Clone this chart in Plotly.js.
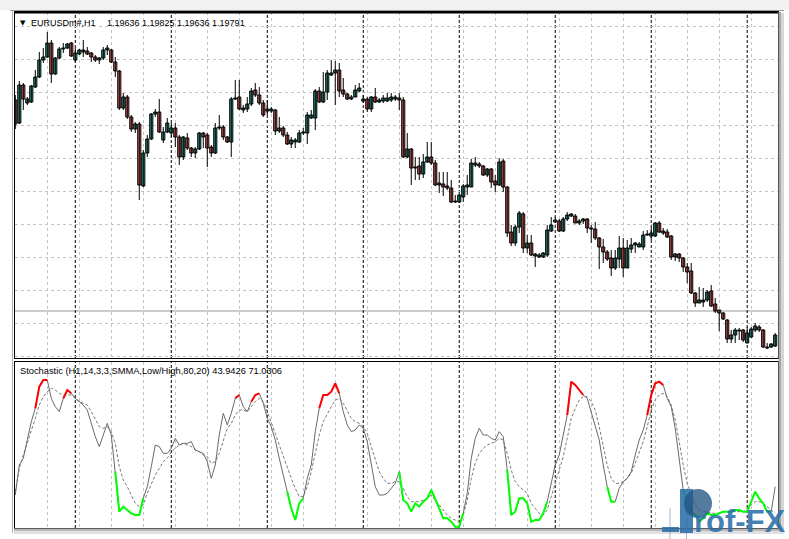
<!DOCTYPE html>
<html>
<head>
<meta charset="utf-8">
<script src="https://cdn.plot.ly/plotly-3.0.1.min.js"></script>
<style>
html,body{margin:0;padding:0;background:#ffffff;}
#chart{width:789px;height:539px;}
</style>
</head>
<body>
<div id="chart"></div>
<script>
// ---------------- DATA (EURUSDm#, H1) ----------------
const open = [1.2214,1.2191,1.2229,1.2211,1.2212,1.2227,1.2237,1.2254,1.2257,1.2271,
1.2240,1.2256,1.2265,1.2266,1.2271,1.2254,1.2260,1.2262,1.2263,1.2261,
1.2257,1.2254,1.2256,1.2264,1.2264,1.2252,1.2243,1.2206,1.2217,1.2197,
1.2185,1.2190,1.2128,1.2161,1.2175,1.2200,1.2202,1.2174,1.2182,1.2181,
1.2186,1.2177,1.2157,1.2176,1.2166,1.2161,1.2165,1.2181,1.2179,1.2167,
1.2161,1.2186,1.2187,1.2177,1.2172,1.2215,1.2217,1.2204,1.2205,1.2210,
1.2224,1.2219,1.2211,1.2203,1.2203,1.2204,1.2183,1.2186,1.2179,1.2170,
1.2172,1.2172,1.2181,1.2181,1.2196,1.2196,1.2223,1.2212,1.2222,1.2239,
1.2241,1.2244,1.2224,1.2220,1.2215,1.2217,1.2223,1.2213,1.2215,1.2205,
1.2217,1.2212,1.2213,1.2213,1.2214,1.2215,1.2216,1.2214,1.2157,1.2165,
1.2146,1.2148,1.2140,1.2152,1.2157,1.2151,1.2129,1.2130,1.2128,1.2126,
1.2112,1.2112,1.2117,1.2127,1.2127,1.2149,1.2150,1.2148,1.2139,1.2145,
1.2133,1.2129,1.2153,1.2127,1.2082,1.2071,1.2087,1.2100,1.2066,1.2071,
1.2058,1.2059,1.2057,1.2059,1.2083,1.2092,1.2093,1.2083,1.2095,1.2098,
1.2098,1.2091,1.2093,1.2095,1.2085,1.2085,1.2076,1.2067,1.2062,1.2056,
1.2046,1.2055,1.2066,1.2046,1.2065,1.2069,1.2067,1.2067,1.2079,1.2078,
1.2078,1.2091,1.2081,1.2082,1.2078,1.2057,1.2060,1.2056,1.2047,1.2043,
1.2021,1.2011,1.2012,1.2014,1.2023,1.2010,1.2004,1.2001,1.1994,1.1975,
1.1979,1.1983,1.1984,1.1971,1.1977,1.1984,1.1987,1.1984,1.1966,1.1967,
1.1968];

const high = [1.2219,1.2233,1.2231,1.2217,1.2229,1.2244,1.2262,1.2266,1.2282,1.2274,
1.2257,1.2267,1.2271,1.2271,1.2272,1.2266,1.2265,1.2274,1.2267,1.2262,
1.2259,1.2257,1.2267,1.2269,1.2265,1.2257,1.2244,1.2221,1.2219,1.2199,
1.2192,1.2192,1.2164,1.2179,1.2201,1.2205,1.2215,1.2187,1.2196,1.2191,
1.2191,1.2179,1.2178,1.2181,1.2167,1.2167,1.2182,1.2182,1.2181,1.2169,
1.2191,1.2199,1.2189,1.2178,1.2217,1.2234,1.2234,1.2209,1.2217,1.2226,
1.2231,1.2227,1.2214,1.2214,1.2207,1.2205,1.2197,1.2188,1.2182,1.2177,
1.2176,1.2184,1.2186,1.2202,1.2204,1.2225,1.2227,1.2242,1.2244,1.2254,
1.2253,1.2251,1.2236,1.2221,1.2219,1.2229,1.2231,1.2219,1.2217,1.2218,
1.2226,1.2216,1.2219,1.2221,1.2221,1.2219,1.2221,1.2217,1.2181,1.2166,
1.2157,1.2157,1.2160,1.2172,1.2172,1.2154,1.2142,1.2142,1.2142,1.2134,
1.2119,1.2121,1.2130,1.2139,1.2155,1.2157,1.2152,1.2149,1.2146,1.2146,
1.2139,1.2156,1.2155,1.2128,1.2089,1.2089,1.2103,1.2102,1.2079,1.2079,
1.2061,1.2061,1.2062,1.2089,1.2097,1.2097,1.2095,1.2097,1.2102,1.2101,
1.2100,1.2095,1.2096,1.2096,1.2089,1.2092,1.2077,1.2075,1.2064,1.2064,
1.2064,1.2078,1.2076,1.2074,1.2076,1.2072,1.2072,1.2083,1.2084,1.2086,
1.2092,1.2093,1.2086,1.2085,1.2079,1.2061,1.2061,1.2057,1.2051,1.2051,
1.2022,1.2027,1.2026,1.2024,1.2029,1.2016,1.2004,1.2002,1.1995,1.1984,
1.1986,1.1986,1.1985,1.1987,1.1987,1.1991,1.1989,1.1985,1.1971,1.1971,
1.1981];

const low = [1.2185,1.2190,1.2204,1.2209,1.2211,1.2226,1.2236,1.2251,1.2256,1.2231,
1.2239,1.2255,1.2261,1.2265,1.2257,1.2252,1.2259,1.2257,1.2259,1.2252,
1.2252,1.2250,1.2254,1.2259,1.2251,1.2237,1.2204,1.2204,1.2195,1.2182,
1.2181,1.2114,1.2127,1.2157,1.2174,1.2197,1.2181,1.2171,1.2181,1.2177,
1.2167,1.2149,1.2154,1.2164,1.2157,1.2156,1.2164,1.2166,1.2147,1.2157,
1.2160,1.2184,1.2174,1.2171,1.2157,1.2214,1.2204,1.2201,1.2202,1.2208,
1.2217,1.2209,1.2197,1.2199,1.2201,1.2179,1.2181,1.2177,1.2169,1.2166,
1.2166,1.2171,1.2179,1.2170,1.2195,1.2184,1.2211,1.2211,1.2214,1.2238,
1.2209,1.2217,1.2217,1.2214,1.2214,1.2217,1.2222,1.2211,1.2202,1.2202,
1.2211,1.2211,1.2211,1.2212,1.2212,1.2213,1.2204,1.2156,1.2156,1.2129,
1.2134,1.2134,1.2136,1.2151,1.2149,1.2128,1.2121,1.2118,1.2124,1.2111,
1.2111,1.2111,1.2112,1.2119,1.2127,1.2147,1.2146,1.2138,1.2137,1.2126,
1.2122,1.2128,1.2122,1.2077,1.2068,1.2068,1.2081,1.2061,1.2061,1.2058,
1.2047,1.2056,1.2056,1.2057,1.2082,1.2091,1.2082,1.2082,1.2093,1.2097,
1.2091,1.2089,1.2090,1.2081,1.2071,1.2074,1.2045,1.2051,1.2053,1.2038,
1.2044,1.2046,1.2037,1.2046,1.2061,1.2061,1.2067,1.2064,1.2078,1.2074,
1.2077,1.2081,1.2079,1.2076,1.2054,1.2053,1.2052,1.2042,1.2031,1.2020,
1.2007,1.2011,1.2007,1.2012,1.2007,1.2001,1.1983,1.1994,1.1971,1.1971,
1.1971,1.1974,1.1972,1.1971,1.1976,1.1982,1.1982,1.1966,1.1965,1.1966,
1.1967];

const close = [1.2190,1.2229,1.2215,1.2215,1.2228,1.2237,1.2254,1.2257,1.2271,1.2240,
1.2256,1.2265,1.2266,1.2270,1.2258,1.2261,1.2264,1.2264,1.2260,1.2257,
1.2254,1.2256,1.2264,1.2266,1.2252,1.2243,1.2206,1.2217,1.2197,1.2185,
1.2190,1.2129,1.2161,1.2175,1.2200,1.2202,1.2182,1.2182,1.2191,1.2186,
1.2177,1.2157,1.2177,1.2166,1.2161,1.2165,1.2181,1.2177,1.2166,1.2161,
1.2186,1.2187,1.2177,1.2172,1.2215,1.2216,1.2205,1.2206,1.2210,1.2223,
1.2219,1.2211,1.2199,1.2205,1.2205,1.2183,1.2186,1.2179,1.2170,1.2174,
1.2174,1.2181,1.2182,1.2199,1.2199,1.2223,1.2212,1.2222,1.2241,1.2241,
1.2244,1.2223,1.2220,1.2215,1.2217,1.2224,1.2226,1.2215,1.2205,1.2217,
1.2212,1.2214,1.2216,1.2216,1.2217,1.2217,1.2214,1.2157,1.2165,1.2146,
1.2147,1.2140,1.2152,1.2157,1.2151,1.2129,1.2131,1.2127,1.2126,1.2112,
1.2113,1.2119,1.2128,1.2129,1.2151,1.2151,1.2148,1.2139,1.2145,1.2132,
1.2129,1.2152,1.2127,1.2081,1.2071,1.2087,1.2101,1.2066,1.2071,1.2059,
1.2060,1.2057,1.2061,1.2084,1.2089,1.2094,1.2083,1.2095,1.2099,1.2100,
1.2091,1.2093,1.2095,1.2086,1.2086,1.2076,1.2067,1.2062,1.2055,1.2046,
1.2056,1.2066,1.2046,1.2066,1.2069,1.2071,1.2070,1.2079,1.2080,1.2081,
1.2091,1.2082,1.2083,1.2077,1.2057,1.2060,1.2056,1.2047,1.2042,1.2021,
1.2011,1.2014,1.2014,1.2022,1.2008,1.2003,1.2001,1.1995,1.1975,1.1979,
1.1984,1.1984,1.1974,1.1981,1.1985,1.1988,1.1984,1.1967,1.1967,1.1970,
1.1979];

// Stochastic (14,3,3) main (%K) and signal (%D)
const stochMain = [21,39,43,55,65,73,86,90,90,79,
74,71,79,84,82,79,77,75,72,64,
56,50,57,64,57,35,11,14,12,10,
9,9,19,26,38,51,50,46,46,49,
55,51,52,52,53,48,47,46,41,31,
39,57,70,63,70,79,81,74,71,77,
81,82,76,67,62,54,43,33,23,13,
6,16,19,31,39,59,73,81,81,83,
88,82,71,63,59,60,63,61,53,39,
26,21,21,22,25,28,35,18,16,11,
16,14,17,19,24,19,13,7,7,5,
2,2,10,22,43,55,61,57,57,55,
54,59,56,36,9,11,19,19,16,5,
6,6,10,17,28,39,45,58,69,89,
87,84,81,79,71,63,54,39,26,17,
17,25,29,31,35,45,54,60,69,81,
88,89,87,79,74,61,41,24,15,11,
9,5,7,10,9,9,10,11,11,11,
12,12,11,11,17,23,19,16,11,11,
26];

const stochSignal = [23,37,45,52,59,67,75,80,83,85,
84,82,81,81,81,79,77,76,75,71,
66,62,61,62,59,52,38,30,26,21,
16,14,15,22,28,33,37,41,43,47,
49,51,52,51,50,48,47,45,44,40,
41,46,54,61,64,69,72,72,71,74,
77,79,77,71,65,58,51,44,37,31,
25,20,20,26,35,46,57,65,70,74,
78,79,76,71,67,65,64,62,58,50,
42,35,31,28,28,29,29,25,20,17,
17,17,18,19,21,18,15,12,9,7,
6,5,9,18,31,40,46,49,51,52,
53,55,54,46,36,29,26,24,22,16,
13,10,9,12,20,28,35,44,55,67,
73,78,80,80,77,72,62,50,39,31,
28,28,29,31,34,40,47,53,62,72,
78,81,82,80,75,66,53,39,28,21,
15,12,11,11,10,10,10,11,11,11,
11,11,11,13,15,17,17,16,14,12,
10];

const daySeparatorBars = [15, 39, 63, 87, 111, 135, 159, 183];
const bidPrice = 1.2003;
const overbought = 80, oversold = 20;
const headerSymbol = "EURUSDm#,H1";
const headerPrices = "1.19636 1.19825 1.19636 1.19791";
const stochLabel = "Stochastic (H1,14,3,3,SMMA,Low/High,80,20) 43.9426 71.0306";

// ---------------- BUILD ----------------
const bars = open.map((_, i) => i);
const obLine = stochMain.map((v, i) => (v > overbought || stochMain[i + 1] > overbought) ? v : null);
const osLine = stochMain.map((v, i) => (v < oversold || stochMain[i + 1] < oversold) ? v : null);

const W = 789, H = 539;
const px = v => v / W;
const py = v => 1 - v / H;

const BULL = '#2f9f8f', BEAR = '#e4655d';
const minBody = 0.00006;

const bullIdx = bars.filter(i => close[i] >= open[i]);
const bearIdx = bars.filter(i => close[i] < open[i]);

const wickX = [], wickY = [];
bars.forEach(i => { wickX.push(i, i, null); wickY.push(low[i], high[i], null); });

function bodyTrace(idx, color) {
  return {
    type: 'bar', x: idx,
    base: idx.map(i => Math.min(open[i], close[i])),
    y: idx.map(i => Math.max(Math.abs(close[i] - open[i]), minBody)),
    width: 0.78, xaxis: 'x', yaxis: 'y',
    marker: {color: color, line: {color: '#000000', width: 1}},
    hoverinfo: 'skip', showlegend: false
  };
}

const traces = [
  {
    type: 'scatter', mode: 'lines', x: wickX, y: wickY, xaxis: 'x', yaxis: 'y',
    line: {color: '#000000', width: 1}, connectgaps: false, hoverinfo: 'skip', showlegend: false
  },
  bodyTrace(bullIdx, BULL),
  bodyTrace(bearIdx, BEAR),
  {
    type: 'scatter', mode: 'lines', x: bars, y: stochSignal, xaxis: 'x2', yaxis: 'y2',
    line: {color: '#7a7a7a', width: 1, dash: '3px,2px'}, hoverinfo: 'skip', showlegend: false
  },
  {
    type: 'scatter', mode: 'lines', x: bars, y: stochMain, xaxis: 'x2', yaxis: 'y2',
    line: {color: '#6a6a6a', width: 1}, hoverinfo: 'skip', showlegend: false
  },
  {
    type: 'scatter', mode: 'lines', x: bars, y: obLine, xaxis: 'x2', yaxis: 'y2',
    line: {color: '#ff0000', width: 2}, connectgaps: false, hoverinfo: 'skip', showlegend: false
  },
  {
    type: 'scatter', mode: 'lines', x: bars, y: osLine, xaxis: 'x2', yaxis: 'y2',
    line: {color: '#00ff00', width: 2}, connectgaps: false, hoverinfo: 'skip', showlegend: false
  }
];

const xCommon = {
  domain: [px(15), px(778)], range: [-0.075, 190.7],
  showgrid: true, gridcolor: '#c4c4c4', griddash: '3px,3px', gridwidth: 1,
  tick0: 0, dtick: 8, showticklabels: false, ticks: '', zeroline: false,
  showline: true, linecolor: '#000000', linewidth: 1, mirror: true,
  fixedrange: true
};

const shapes = [];
// window chrome
shapes.push({type: 'rect', xref: 'paper', yref: 'paper', x0: 0, x1: 1, y0: py(10), y1: 1,
  fillcolor: '#f1f1f1', line: {width: 0}, layer: 'below'});
shapes.push({type: 'line', xref: 'paper', yref: 'paper', x0: px(10), x1: px(784), y0: py(10.5), y1: py(10.5),
  line: {color: '#9a9a9a', width: 1}});
shapes.push({type: 'line', xref: 'paper', yref: 'paper', x0: px(12.5), x1: px(12.5), y0: py(533), y1: py(11),
  line: {color: '#b0b0b0', width: 1}});
shapes.push({type: 'rect', xref: 'paper', yref: 'paper', x0: px(778.5), x1: px(781), y0: py(533), y1: py(12),
  fillcolor: '#a8a8a8', line: {width: 0}});
shapes.push({type: 'rect', xref: 'paper', yref: 'paper', x0: px(781), x1: px(784), y0: py(533), y1: py(13),
  fillcolor: '#d6d6d6', line: {width: 0}});
shapes.push({type: 'rect', xref: 'paper', yref: 'paper', x0: px(14), x1: px(781), y0: py(531), y1: py(528.5),
  fillcolor: '#b8b8b8', line: {width: 0}});
shapes.push({type: 'rect', xref: 'paper', yref: 'paper', x0: px(14), x1: px(784), y0: py(534), y1: py(531),
  fillcolor: '#e0e0e0', line: {width: 0}});
shapes.push({type: 'line', xref: 'paper', yref: 'paper', x0: px(15), x1: px(778), y0: py(12.5), y1: py(12.5),
  line: {color: '#000000', width: 2}});

// bid level line
shapes.push({type: 'line', xref: 'x domain', yref: 'y', x0: 0, x1: 1, y0: bidPrice, y1: bidPrice,
  line: {color: '#bdbdbd', width: 1.5}, layer: 'below'});

// period separators in both panes
daySeparatorBars.forEach(b => {
  ['y domain', 'y2 domain'].forEach(yr => {
    shapes.push({type: 'line', xref: 'x', yref: yr, x0: b, x1: b, y0: 0, y1: 1,
      line: {color: '#000000', width: 1, dash: '3px,2px'}, layer: 'below'});
  });
});

// watermark logo
const logoBlue = 'rgba(44,112,170,0.88)';
shapes.push({type: 'line', xref: 'paper', yref: 'paper', x0: px(670), x1: px(670), y0: py(539), y1: py(508),
  line: {color: 'rgba(140,165,190,0.8)', width: 1}, layer: 'above'});
shapes.push({type: 'line', xref: 'paper', yref: 'paper', x0: px(686.5), x1: px(686.5), y0: py(539), y1: py(505),
  line: {color: 'rgba(140,165,190,0.8)', width: 1}, layer: 'above'});
shapes.push({type: 'rect', xref: 'paper', yref: 'paper', x0: px(662), x1: px(679), y0: py(532), y1: py(527),
  fillcolor: logoBlue, line: {width: 0}, layer: 'above'});
shapes.push({type: 'rect', xref: 'paper', yref: 'paper', x0: px(680), x1: px(693), y0: py(533), y1: py(489),
  fillcolor: logoBlue, line: {width: 0}, layer: 'above'});
shapes.push({type: 'circle', xref: 'paper', yref: 'paper', x0: px(684), x1: px(712), y0: py(518), y1: py(489),
  fillcolor: 'rgba(36,84,130,0.78)', line: {width: 0}, layer: 'above'});

const font = {family: 'Liberation Sans, Arial, DejaVu Sans, sans-serif', size: 9, color: '#000000'};
const annotations = [
  {xref: 'paper', yref: 'paper', x: px(18), y: py(23), xanchor: 'left', yanchor: 'middle',
   text: '▼', showarrow: false, font: {family: 'DejaVu Sans, sans-serif', size: 7, color: '#000000'}},
  {xref: 'paper', yref: 'paper', x: px(29), y: py(23), xanchor: 'left', yanchor: 'middle',
   text: headerSymbol, showarrow: false, font: font},
  {xref: 'paper', yref: 'paper', x: px(104.5), y: py(23), xanchor: 'left', yanchor: 'middle',
   text: headerPrices, showarrow: false, font: font},
  {xref: 'paper', yref: 'paper', x: px(18), y: py(371), xanchor: 'left', yanchor: 'middle',
   text: stochLabel, showarrow: false, font: Object.assign({}, font, {size: 9.3})},
  {xref: 'paper', yref: 'paper', x: px(692), y: py(521), xanchor: 'left', yanchor: 'middle',
   text: '<b>rof-FX</b>', showarrow: false,
   font: {family: 'Liberation Sans, Arial, sans-serif', size: 31, color: logoBlue}}
];

const layout = {
  width: W, height: H,
  margin: {l: 0, r: 0, t: 0, b: 0, pad: 0},
  paper_bgcolor: '#ffffff', plot_bgcolor: '#ffffff',
  showlegend: false, hovermode: false, dragmode: false,
  barmode: 'overlay', bargap: 0,
  xaxis: Object.assign({}, xCommon, {anchor: 'y'}),
  xaxis2: Object.assign({}, xCommon, {anchor: 'y2', matches: 'x'}),
  yaxis: {
    domain: [py(358), py(12)], range: [1.1956, 1.2302], anchor: 'x',
    showgrid: true, gridcolor: '#c4c4c4', griddash: '3px,3px', gridwidth: 1,
    tick0: 1.2288, dtick: 0.0033, showticklabels: false, ticks: '', zeroline: false,
    showline: true, linecolor: '#000000', linewidth: 1, mirror: true, fixedrange: true
  },
  yaxis2: {
    domain: [py(528), py(362)], range: [1.2, 100.8], anchor: 'x2',
    showgrid: false, showticklabels: false, ticks: '', zeroline: false,
    showline: true, linecolor: '#000000', linewidth: 1, mirror: true, fixedrange: true
  },
  shapes: shapes,
  annotations: annotations
};

Plotly.newPlot('chart', traces, layout, {displayModeBar: false, staticPlot: true});
</script>
</body>
</html>
